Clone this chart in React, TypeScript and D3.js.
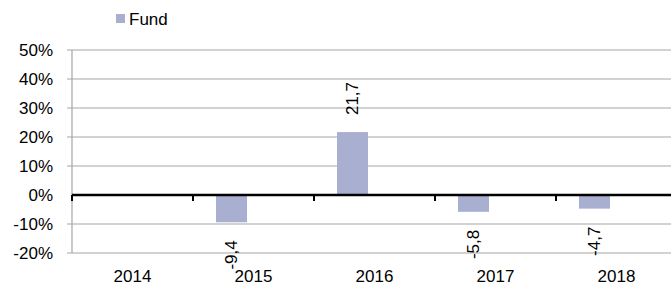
import React, { useRef, useEffect } from 'react';
import * as d3 from 'd3';

const years = ['2014', '2015', '2016', '2017', '2018'];
const fundValues: (number | null)[] = [null, -9.4, 21.7, -5.8, -4.7];
const seriesSlots = ['Fund', 'other'];
const yTicks = [-20, -10, 0, 10, 20, 30, 40, 50];

const FONT = '"Liberation Sans", Arial, sans-serif';
const BAR = '#a9afd1';

function App() {
  const ref = useRef<SVGSVGElement>(null);

  useEffect(() => {
    const svg = d3.select(ref.current);
    svg.selectAll('*').remove();

    const width = 671, height = 287;
    const left = 72, right = 677, top = 50, bottom = 253;

    const x = d3.scaleBand().domain(years).range([left, right]);
    const x1 = d3.scaleBand().domain(seriesSlots).range([0, x.bandwidth()])
      .paddingInner(0.295).paddingOuter(0.523);
    const y = d3.scaleLinear().domain([-20, 50]).range([bottom, top]);

    svg.attr('width', width).attr('height', height);

    // grid lines
    svg.append('g')
      .selectAll('line')
      .data(yTicks.filter((d) => d !== 0))
      .join('line')
      .attr('x1', left - 5).attr('x2', width)
      .attr('y1', (d) => y(d)).attr('y2', (d) => y(d))
      .attr('stroke', '#a6a6a6').attr('stroke-width', 1.2);

    // left axis
    svg.append('line')
      .attr('x1', left).attr('x2', left)
      .attr('y1', top).attr('y2', bottom)
      .attr('stroke', '#a6a6a6').attr('stroke-width', 1.2);

    svg.append('g')
      .selectAll('text')
      .data(yTicks)
      .join('text')
      .attr('x', 53)
      .attr('y', (d) => y(d))
      .attr('dy', '0.35em')
      .attr('text-anchor', 'end')
      .attr('font-family', FONT)
      .attr('font-size', 17)
      .attr('fill', '#000')
      .text((d) => `${d}%`);

    // bars
    const rows = years.map((yr, i) => ({ yr, v: fundValues[i] })).filter((d) => d.v !== null) as { yr: string; v: number }[];

    svg.append('g')
      .selectAll('rect')
      .data(rows)
      .join('rect')
      .attr('x', (d) => (x(d.yr) as number) + (x1('Fund') as number))
      .attr('width', x1.bandwidth())
      .attr('y', (d) => y(Math.max(0, d.v)))
      .attr('height', (d) => Math.abs(y(d.v) - y(0)))
      .attr('fill', BAR);

    // zero line with category ticks
    svg.append('line')
      .attr('x1', left).attr('x2', width)
      .attr('y1', y(0)).attr('y2', y(0))
      .attr('stroke', '#000').attr('stroke-width', 2.6);

    svg.append('g')
      .selectAll('line')
      .data(years)
      .join('line')
      .attr('x1', (d) => x(d) as number).attr('x2', (d) => x(d) as number)
      .attr('y1', y(0)).attr('y2', y(0) + 6)
      .attr('stroke', '#000').attr('stroke-width', 2);

    // value labels
    svg.append('g')
      .selectAll('text')
      .data(rows)
      .join('text')
      .attr('transform', (d) => {
        const cx = (x(d.yr) as number) + (x1('Fund') as number) + x1.bandwidth() / 2;
        const cy = d.v >= 0 ? y(d.v) - 17 : y(d.v) + 18;
        return `translate(${cx},${cy}) rotate(-90)`;
      })
      .attr('text-anchor', (d) => (d.v >= 0 ? 'start' : 'end'))
      .attr('dy', '0.35em')
      .attr('font-family', FONT)
      .attr('font-size', 17)
      .attr('fill', '#000')
      .text((d) => String(d.v).replace('.', ','));

    // category labels
    svg.append('g')
      .selectAll('text')
      .data(years)
      .join('text')
      .attr('x', (d) => (x(d) as number) + x.bandwidth() / 2)
      .attr('y', 282)
      .attr('text-anchor', 'middle')
      .attr('font-family', FONT)
      .attr('font-size', 17)
      .attr('fill', '#000')
      .text((d) => d);

    // legend
    const legend = svg.append('g');
    legend.append('rect')
      .attr('x', 116).attr('y', 14)
      .attr('width', 9).attr('height', 9)
      .attr('fill', BAR);
    legend.append('text')
      .attr('x', 129).attr('y', 25)
      .attr('font-family', FONT)
      .attr('font-size', 17)
      .attr('fill', '#000')
      .text('Fund');
  }, []);

  return <svg ref={ref} style={{ position: 'absolute', left: 0, top: 0 }}></svg>;
}

export default App;
